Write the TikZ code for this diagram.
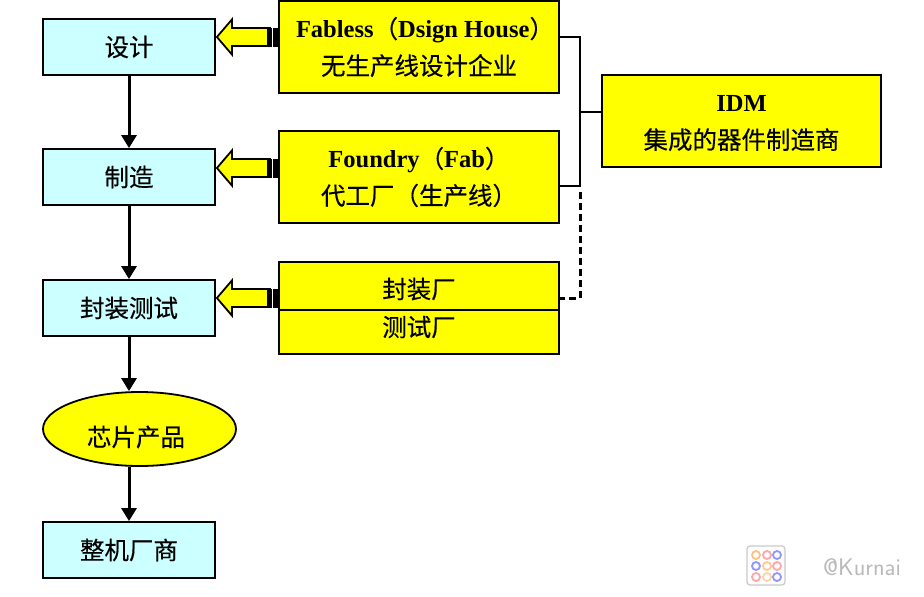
\documentclass[tikz,border=0pt]{standalone}
\usepackage{fontspec}
\setmainfont{Liberation Serif}
\newfontfamily\cjk{Noto Sans CJK SC}[FakeBold=0.35]
\usetikzlibrary{arrows.meta,shapes.geometric}
\definecolor{boxcyan}{HTML}{CCFFFF}
\definecolor{boxyellow}{HTML}{FFFF00}
\newcommand{\cn}[1]{{\cjk #1}}
\newcommand{\lt}[1]{{\bfseries #1}}
\tikzset{
  x=1pt,y=-1pt,
  labelfont/.style={font=\fontsize{24.5}{37}\selectfont\cjk},
  stagebox/.style={draw=black,line width=1.8pt,fill=boxcyan,minimum width=172pt,minimum height=56pt,inner sep=0pt,labelfont},
  orgbox/.style={draw=black,line width=1.8pt,fill=boxyellow,minimum width=280pt,minimum height=92pt,inner sep=0pt,align=center,font=\fontsize{24.5}{37}\selectfont},
  halfbox/.style={draw=black,line width=1.8pt,fill=boxyellow,minimum width=280pt,inner sep=0pt,labelfont},
  flowarrow/.style={line width=3pt,-{Triangle[length=13pt,width=15pt]}},
  link/.style={line width=2pt},
  dashlink/.style={line width=3pt,dash pattern=on 7pt off 4pt},
  blockarrow/.style={draw=black,line width=1.8pt,fill=boxyellow,line join=miter},
}
\begin{document}
\begin{tikzpicture}
\useasboundingbox (0,0) rectangle (924,597);
\node[stagebox] (design) at (129,47) {设计};
\node[stagebox] (make) at (129,177) {制造};
\node[stagebox] (test) at (129,308) {封装测试};
\node[draw=black,line width=1.8pt,fill=boxyellow,shape=ellipse,minimum width=193pt,minimum height=74pt,inner sep=0pt,label={[labelfont,name=chiptext,xshift=-3.5pt,yshift=-8pt]center:芯片产品}] (chip) at (139.5,429) {};
\node[stagebox] (oem) at (129,550) {整机厂商};
\node[orgbox] (fabless) at (419,47) {\hspace*{12pt}\lt{Fabless}\cn{（}\lt{Dsign House}\cn{）}\\\cn{无生产线设计企业}};
\node[orgbox] (foundry) at (419,177) {\lt{Foundry}\cn{（}\lt{Fab}\cn{）}\\\cn{代工厂（生产线）}};
\node[halfbox,minimum height=48pt,label={[labelfont,name=packtext,yshift=-3pt]center:封装厂}] (pack) at (419,286) {};
\node[halfbox,minimum height=44pt,label={[labelfont,name=testtext,yshift=5pt]center:测试厂}] (testfab) at (419,332) {};
\node[orgbox,minimum width=279pt,label={[align=center,font=\fontsize{24.5}{37}\selectfont,name=idmtext,yshift=-2.5pt]center:{\lt{IDM}\\\cn{集成的器件制造商}}}] (idm) at (741.5,121) {};

\draw[flowarrow] (design.south) -- (make.north);
\draw[flowarrow] (make.south) -- (test.north);
\draw[flowarrow] (test.south) -- (test.south |- chip.north);
\draw[flowarrow] (oem.north |- chip.south) -- (oem.north);

\coordinate (busTop) at (580,37);
\coordinate (busMid) at (580,112);
\coordinate (busLow) at (580,186);
\coordinate (busEnd) at (580,298);
\draw[link] (busTop -| fabless.east) -- (busTop) -- (busLow) -- (busLow -| foundry.east);
\draw[link] (busMid) -- (busMid -| idm.west);
\draw[dashlink] (busLow) ++(0,6) -- (busEnd) -- (busEnd -| pack.east);

\foreach \src/\dst/\yy in {fabless/design/37,foundry/make/168,pack/test/298}{
  \coordinate (tip) at (\dst.east |- 0,\yy);
  \coordinate (back) at (\src.west |- 0,\yy);
  \draw[blockarrow] (tip) ++(1,0) -- ++(15,-17.5) -- ++(0,8.5) -- ++(38,0) -- ++(0,18) -- ++(-38,0) -- ++(0,8.5) -- cycle;
  \fill[black] (back) ++(-11,-9.5) rectangle ++(5,19);
  \fill[black] (back) ++(-5,-9.5) rectangle ++(5,19);
}

% watermark
\begin{scope}[opacity=.7]
\draw[gray!60,rounded corners=3pt,line width=1.2pt] (747,546) rectangle (785,585);
\foreach \cx/\cy/\cc in {756/555/orange!70,767/555/red!50,777/555/blue!60,756/566/blue!60,767/566/orange!60,777/566/red!50,756/577/red!50,767/577/orange!50,777/577/blue!60}{
  \draw[\cc,line width=1.8pt] (\cx,\cy) circle (4pt);
}
\end{scope}
\node[text=gray!55,inner sep=0pt,font=\fontsize{24}{26}\selectfont\sffamily] (mark) at (862,567) {@Kurnai};
\end{tikzpicture}
\end{document}
